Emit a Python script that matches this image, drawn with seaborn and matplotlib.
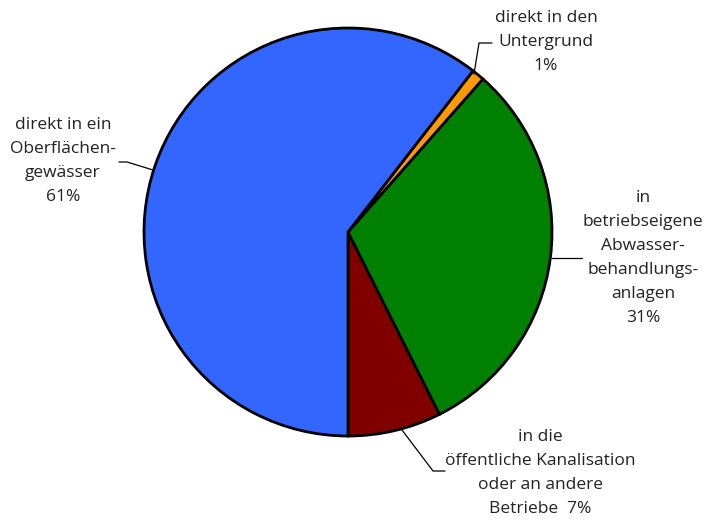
import matplotlib
matplotlib.use("Agg")
import matplotlib.pyplot as plt
import seaborn as sns

# Data (counterclockwise from straight down)
categories = ["in die öffentliche Kanalisation oder an andere Betriebe",
              "in betriebseigene Abwasserbehandlungsanlagen",
              "direkt in den Untergrund",
              "direkt in ein Oberflächengewässer"]
shares = [7.4, 31.1, 1.0, 60.5]
label_texts = ["in die\nöffentliche Kanalisation\noder an andere\nBetriebe  7%",
               "in\nbetriebseigene\nAbwasser-\nbehandlungs-\nanlagen\n31%",
               "direkt in den\nUntergrund\n1%",
               "direkt in ein\nOberflächen-\ngewässer\n61%"]
colors = ["#800000", "#008000", "#FF9900", "#3366FF"]

sns.set_theme(style="white")
plt.rcParams["font.family"] = ["Open Sans", "DejaVu Sans"]

W, H = 703, 521
fig = plt.figure(figsize=(W / 100, H / 100), dpi=100)
ax = fig.add_axes([0, 0, 1, 1])

cx, cy, r = 348, H - 232, 204
ax.pie(shares, colors=colors, startangle=-90, counterclock=True,
       center=(cx, cy), radius=r, frame=True,
       wedgeprops=dict(edgecolor="black", linewidth=2))
ax.set_xlim(0, W)
ax.set_ylim(0, H)
ax.set_aspect("equal")
ax.axis("off")

def Y(py):
    return H - py

# leader lines (pixel coords)
lk = dict(color="black", linewidth=0.9)
ax.plot([474, 479, 492], [Y(74), Y(43), Y(43)], **lk)
ax.plot([153, 127, 119], [Y(170), Y(162), Y(162)], **lk)
ax.plot([552, 582], [Y(258), Y(258)], **lk)
ax.plot([402, 433, 445], [Y(430), Y(471), Y(471)], **lk)

fs = 12.5
tk = dict(ha="center", va="center", fontsize=fs, color="#222222", linespacing=1.66)
ax.text(546, Y(42), label_texts[2], **tk)
ax.text(63, Y(161), label_texts[3], **tk)
ax.text(643, Y(258), label_texts[1], **tk)
ax.text(540, Y(473), label_texts[0], **tk)

fig.savefig("out.png", dpi=100)
